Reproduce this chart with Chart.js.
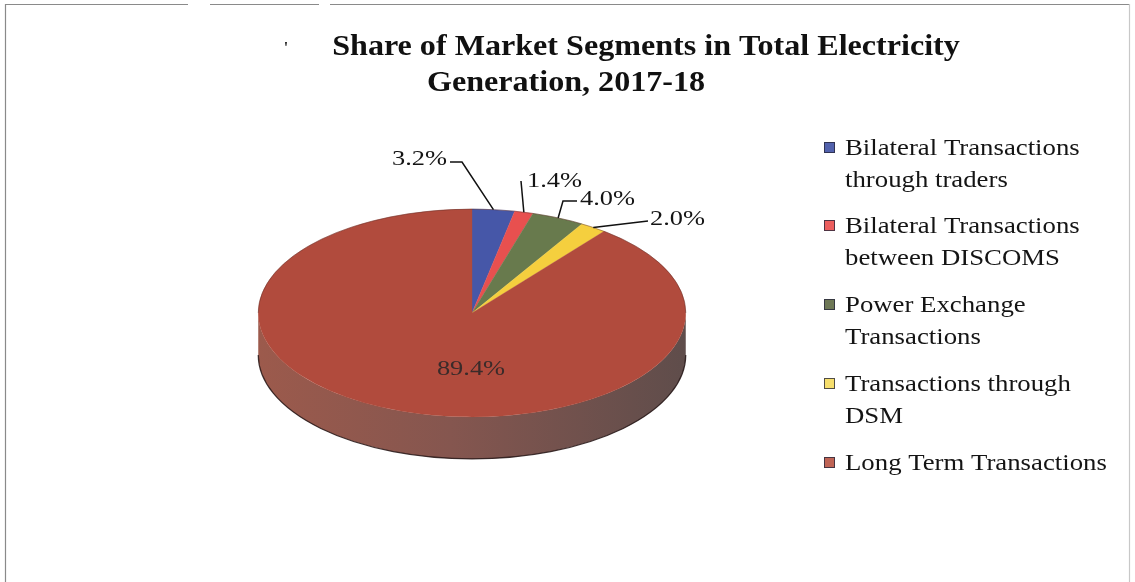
<!DOCTYPE html>
<html>
<head>
<meta charset="utf-8">
<script src="https://cdn.jsdelivr.net/npm/chart.js@4.4.1/dist/chart.umd.min.js"></script>
<style>
  html, body { margin: 0; padding: 0; background: #ffffff; }
  canvas { display: block; }
</style>
</head>
<body>
<canvas id="chart" width="1135" height="582"></canvas>
<script>
// ---- data ----
const titleLines = ['Share of Market Segments in Total Electricity', 'Generation, 2017-18'];
const categories = [
  'Bilateral Transactions through traders',
  'Bilateral Transactions between DISCOMS',
  'Power Exchange Transactions',
  'Transactions through DSM',
  'Long Term Transactions'
];
const legendLines = [
  ['Bilateral Transactions', 'through traders'],
  ['Bilateral Transactions', 'between DISCOMS'],
  ['Power Exchange', 'Transactions'],
  ['Transactions through', 'DSM'],
  ['Long Term Transactions']
];
const shares = [3.2, 1.4, 4.0, 2.0, 89.4];

// ---- styling ----
const sliceColors = ['#4657a8', '#e8504f', '#687a4d', '#f5cf3e', '#b14b3d'];
const swatchColors = ['#5262ad', '#ec5e5e', '#6e7856', '#f6de6c', '#bf6455'];
const SERIF = '"Liberation Serif", "Times New Roman", serif';

// tilted pie: centre, radius, vertical squash and thickness of the rim
const PIE = { cx: 472, cy: 313, r: 214, tilt: 104 / 214, depth: 42 };

// callouts: label text anchor (left, baseline), leader start and optional elbow
const callouts = [
  { at: [392, 165], from: [450, 162], elbow: [462, 162] },
  { at: [527, 187], from: [521, 181], elbow: null },
  { at: [580, 205], from: [577, 201], elbow: [563, 201] },
  { at: [650, 225], from: [648, 221], elbow: null },
  { at: [471, 375], inside: true }
];

// legend layout
const LEGEND = { boxX: 824, box: 11, textX: 845, firstBaselines: [155, 233, 312, 391, 470], lineGap: 32 };

function stretchedText(ctx, str, x, y, font, sx, align, color) {
  ctx.save();
  ctx.font = font;
  ctx.fillStyle = color || '#111';
  ctx.textAlign = align || 'left';
  ctx.textBaseline = 'alphabetic';
  ctx.translate(x, y);
  ctx.scale(sx, 1);
  ctx.fillText(str, 0, 0);
  ctx.restore();
}

// frame around the figure
const framePlugin = {
  id: 'frame',
  beforeDraw(chart) {
    const ctx = chart.ctx;
    ctx.save();
    ctx.fillStyle = '#ffffff';
    ctx.fillRect(0, 0, chart.width, chart.height);
    ctx.strokeStyle = '#8a8a8a';
    ctx.lineWidth = 1.2;
    ctx.beginPath();
    [[5, 188], [210, 319], [330, 1130]].forEach(([a, b]) => { ctx.moveTo(a, 4.5); ctx.lineTo(b, 4.5); });
    ctx.moveTo(5.5, 4); ctx.lineTo(5.5, 582);
    ctx.stroke();
    ctx.strokeStyle = '#c8c8c8';
    ctx.beginPath();
    ctx.moveTo(1129.5, 4); ctx.lineTo(1129.5, 582);
    ctx.stroke();
    ctx.restore();
  }
};

// gives the pie its tilt and rim
const tiltPlugin = {
  id: 'tilt3d',
  beforeDatasetsDraw(chart) {
    const ctx = chart.ctx;
    const arcs = chart.getDatasetMeta(0).data;
    const a = arcs[0];
    const cx = a.x, cy = a.y, r = a.outerRadius, ry = r * PIE.tilt, d = PIE.depth;
    // rim: only the front half (0..PI) is visible
    arcs.forEach((arc) => {
      for (let k = -1; k <= 1; k++) {
        const s = Math.max(arc.startAngle + 2 * Math.PI * k, 0);
        const e = Math.min(arc.endAngle + 2 * Math.PI * k, Math.PI);
        if (e <= s) continue;
        const g = ctx.createLinearGradient(cx - r, 0, cx + r, 0);
        g.addColorStop(0, '#9c5a4c');
        g.addColorStop(0.45, '#85564f');
        g.addColorStop(1, '#5f4d4b');
        ctx.save();
        ctx.beginPath();
        ctx.ellipse(cx, cy, r, ry, 0, s, e);
        ctx.ellipse(cx, cy + d, r, ry, 0, e, s, true);
        ctx.closePath();
        ctx.fillStyle = g;
        ctx.fill();
        ctx.beginPath();
        ctx.ellipse(cx, cy + d, r, ry, 0, s, e);
        ctx.strokeStyle = 'rgba(35,20,20,0.85)';
        ctx.lineWidth = 1.2;
        ctx.stroke();
        ctx.restore();
      }
    });
    ctx.save();
    ctx.translate(cx, cy);
    ctx.scale(1, PIE.tilt);
    ctx.translate(-cx, -cy);
  },
  afterDatasetsDraw(chart) {
    const ctx = chart.ctx;
    ctx.restore();
    const arcs = chart.getDatasetMeta(0).data;
    const a = arcs[0];
    const cx = a.x, cy = a.y, r = a.outerRadius, ry = r * PIE.tilt;
    // faint edge along the back of the top face
    ctx.save();
    ctx.beginPath();
    ctx.ellipse(cx, cy, r, ry, 0, Math.PI, 2 * Math.PI);
    ctx.strokeStyle = 'rgba(90,40,35,0.45)';
    ctx.lineWidth = 1;
    ctx.stroke();
    ctx.restore();

    // value labels with leader lines
    arcs.forEach((arc, i) => {
      const c = callouts[i];
      const txt = shares[i].toFixed(1) + '%';
      if (c.inside) {
        stretchedText(ctx, txt, c.at[0], c.at[1], '22px ' + SERIF, 1.2, 'center', '#3a2b2a');
        return;
      }
      const mid = (arc.startAngle + arc.endAngle) / 2;
      const ex = cx + r * Math.cos(mid);
      const ey = cy + ry * Math.sin(mid);
      ctx.save();
      ctx.strokeStyle = '#111';
      ctx.lineWidth = 1.5;
      ctx.beginPath();
      ctx.moveTo(c.from[0], c.from[1]);
      if (c.elbow) ctx.lineTo(c.elbow[0], c.elbow[1]);
      ctx.lineTo(ex, ey);
      ctx.stroke();
      ctx.restore();
      stretchedText(ctx, txt, c.at[0], c.at[1], '22px ' + SERIF, 1.2, 'left', '#141414');
    });
  },
  afterDraw(chart) {
    const ctx = chart.ctx;
    // title
    stretchedText(ctx, "'", 286, 53, 'bold 16px ' + SERIF, 1, 'center', '#222');
    stretchedText(ctx, titleLines[0], 646, 55, 'bold 30px ' + SERIF, 1.07, 'center', '#111');
    stretchedText(ctx, titleLines[1], 566, 91, 'bold 30px ' + SERIF, 1.07, 'center', '#111');
    // legend
    legendLines.forEach((lines, i) => {
      const base = LEGEND.firstBaselines[i];
      const by = base - 7.5 - LEGEND.box / 2;
      ctx.save();
      ctx.fillStyle = swatchColors[i];
      ctx.fillRect(LEGEND.boxX, by, LEGEND.box, LEGEND.box);
      ctx.strokeStyle = 'rgba(40,40,60,0.8)';
      ctx.lineWidth = 1;
      ctx.strokeRect(LEGEND.boxX + 0.5, by + 0.5, LEGEND.box - 1, LEGEND.box - 1);
      ctx.restore();
      lines.forEach((ln, j) => {
        stretchedText(ctx, ln, LEGEND.textX, base + j * LEGEND.lineGap, '22.5px ' + SERIF, 1.19, 'left', '#141414');
      });
    });
  }
};

new Chart(document.getElementById('chart'), {
  type: 'pie',
  data: {
    labels: categories,
    datasets: [{
      data: shares,
      backgroundColor: sliceColors,
      borderColor: sliceColors,
      borderWidth: 0.5,
      clip: false
    }]
  },
  options: {
    responsive: false,
    animation: false,
    events: [],
    layout: {
      padding: {
        left: PIE.cx - PIE.r,
        right: 1135 - (PIE.cx + PIE.r),
        top: PIE.cy - PIE.r,
        bottom: 582 - (PIE.cy + PIE.r)
      }
    },
    plugins: {
      legend: { display: false },
      title: { display: false },
      tooltip: { enabled: false }
    }
  },
  plugins: [framePlugin, tiltPlugin]
});
</script>
</body>
</html>
